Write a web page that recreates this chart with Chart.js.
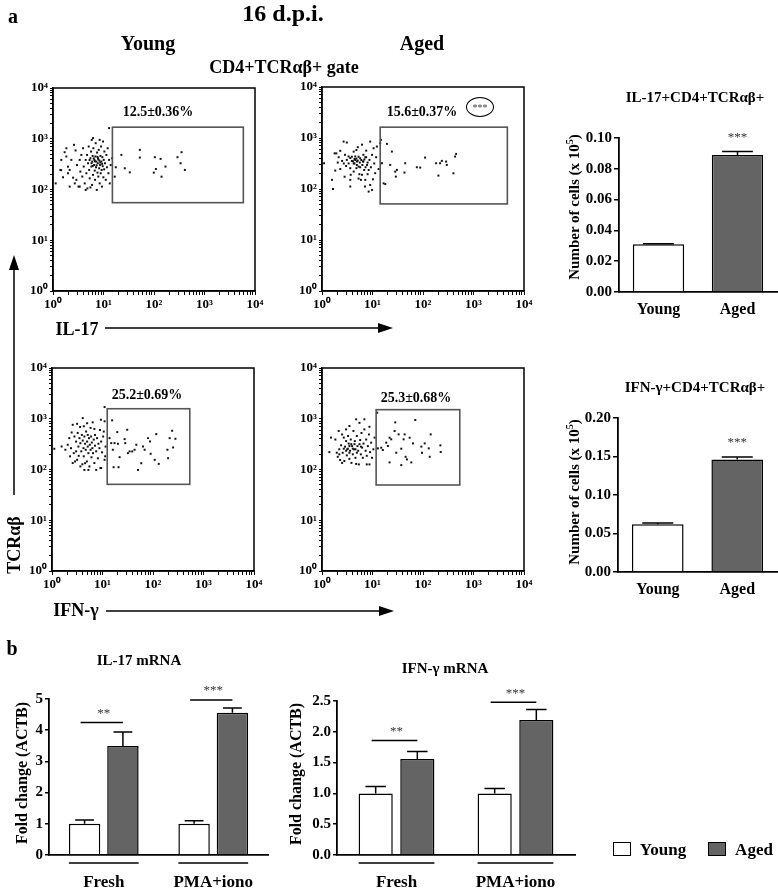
<!DOCTYPE html>
<html><head><meta charset="utf-8">
<script src="https://cdn.jsdelivr.net/npm/chart.js@4"></script>
<style>
html,body{margin:0;padding:0;background:#fff;}
#root{position:relative;width:778px;height:888px;overflow:hidden;font-family:"Liberation Serif","Times New Roman",serif;font-weight:bold;color:#000;}
.t{position:absolute;white-space:nowrap;transform:translate(-50%,-50%);line-height:1;z-index:3;}
.r{transform:translate(-50%,-50%) rotate(-90deg);}
canvas{position:absolute;z-index:1;}
svg{position:absolute;left:0;top:0;z-index:2;}
.box{position:absolute;border:1.5px solid #000;box-sizing:border-box;z-index:3;}
</style></head><body><div id="root"></div>
<script>
// ---------------- DATA ----------------
// flow-cytometry events [x (IL-17 / IFN-γ), y (TCRαβ)]
const youngIL17Events = [
[1.13,132],[1.4,243],[1.45,240],[1.58,174],[1.7,543],[1.84,650],[1.98,282],[1.98,209],[2.14,243],[2.31,383],[2.5,171],[2.6,759],[2.8,588],[2.9,155],[2.99,303],[3.2,114],[3.38,383],[3.48,225],[3.64,480],[3.8,180],[3.94,650],[4.06,283],[4.25,132],[4.44,383],[4.58,209],[4.72,480],[4.8,105],[4.95,329],[5.1,703],[5.2,243],[5.33,166],[5.5,413],[5.67,560],[5.76,283],[5.85,950],[5.94,123],[6.0,355],[6.1,459],[6.2,194],[6.3,650],[6.5,303],[6.6,383],[6.7,236],[6.8,155],[6.9,447],[7.0,818],[7.1,274],[7.2,355],[7.35,98],[7.45,535],[7.6,215],[7.7,329],[7.8,413],[7.9,180],[8.05,604],[8.2,262],[8.3,372],[8.4,132],[8.55,303],[8.7,459],[8.8,209],[8.95,703],[9.1,355],[9.2,243],[9.35,114],[9.5,433],[9.65,288],[9.8,883],[9.95,174],[10.1,383],[10.3,250],[10.4,560],[10.7,329],[11.1,155],[11.4,480],[11.7,274],[12.1,650],[12.5,209],[12.9,383],[13.3,132],[13.9,303],
[1.46,383],[1.84,447],[2.14,114],[2.7,132],[3.38,114],[4.44,98],[5.5,110],[8.4,950],[6.2,1030],
[5.8,330],[6.4,410],[7.3,300],[7.9,390],[8.6,340],[6.8,360],[7.6,440],[5.3,380],[9.4,320],[6.1,290],
[12.9,1620],[14.8,413],[16.7,179],[17.5,274],[22.6,481],[26.4,262],[33.2,218],[52.4,604],[52.4,426],[99,215],[104,433],[109,254],[135,401],[141,179],[169,283],[292,433],[336,329],[351,543],[409,243]
];
const agedIL17Events = [
[1.1,320],[1.58,151],[1.65,100],[1.78,500],[1.92,500],[2.14,420],[2.3,246],[2.5,355],[2.68,850],[3.1,815],[2.8,174],[3.0,283],[3.36,435],[3.63,151],[3.63,112],[3.9,355],[4.24,317],[4.4,388],[4.55,435],[4.8,256],[4.9,346],[5.1,660],[5.3,275],[5.5,195],[5.7,400],[5.9,151],[6.2,740],[6.45,346],[6.6,468],[6.85,236],[7.1,112],[7.2,420],[7.5,565],[7.8,296],[8.0,195],[8.4,89],[8.7,372],[9.0,850],[9.3,267],[9.8,468],[10.2,155],[10.5,630],[10.8,317],[11.3,204],[11.8,420],[12.2,680],[13.2,246],
[3.63,405],[3.9,430],[4.1,350],[4.4,317],[4.55,370],[4.8,395],[4.9,296],[5.1,360],[5.3,430],[5.6,330],[5.7,267],[6.0,370],[6.3,296],[6.6,346],[6.9,380],[7.3,267],[7.5,420],[8.0,330],[3.1,372],[3.36,317],[3.63,256],[2.85,468],[4.24,540],[4.8,580],[5.3,160],[6.2,190],[4.24,220],[3.7,190],[7.2,151],[8.4,236],[9.0,120],[9.8,96],[2.3,560],[2.05,330],[1.83,230],[2.7,317],
[14.2,791],[14.7,920],[15.4,320],[16.6,129],[17.9,125],[19.3,768],[22.4,297],[24.2,542],[28.2,219],[29,175],[30.4,237],[43,210],[44.4,320],[75.5,267],[88,263],[110,413],[182,320],[202,183],[218,320],[236,356],[287,345],[296,297],[401,203],[432,433],[453,488]
];
const youngIFNgEvents = [
[4.06,1030],[2.57,760],[3.14,795],[3.6,690],[4.96,815],[6.4,850],[5.8,660],[6.9,630],[2.2,415],[2.45,537],[2.78,447],[3.0,355],[3.23,525],[3.33,283],[3.5,415],[3.65,330],[3.8,228],[3.9,480],[4.06,372],[4.2,263],[4.26,182],[4.38,447],[4.52,322],[4.66,245],[4.73,560],[4.9,144],[4.96,355],[5.1,283],[5.26,210],[5.4,415],[5.5,115],[5.6,307],[5.8,245],[5.95,447],[6.05,174],[6.15,340],[6.3,263],[6.5,210],[6.7,388],[6.9,134],[7.1,295],[7.5,228],[7.8,415],[8.1,166],[8.3,322],[8.7,263],[9.1,107],[9.4,355],[9.8,218],[10.3,447],[11,155],[11.5,283],[2.05,307],[2.28,182],[2.38,263],[2.7,210],[2.86,144],[3.14,155],[3.38,186],[3.65,115],[4.0,127],[4.38,98],[4.52,133],[5.26,98],[7.5,98],[9.4,107],[2.57,134],[3.0,228],[5.1,480],[4.26,710],[7.1,480],[8.9,600],[10.6,560],[11.3,182],
[1.11,256],[1.55,284],[1.84,245],[9.3,955],[11,890],[11,1700],
[13.8,415],[14.9,331],[15.5,930],[16,245],[17.3,331],[19.6,545],[20.2,321],[21.8,175],[20.8,111],[16.6,111],[27.4,397],[28.2,331],[30.9,607],[31.8,210],[34.4,227],[38.8,227],[43.2,245],[46.7,307],[50.4,98],[58.6,133],[63.3,284],[68.3,245],[79.6,415],[87.1,357],[89.9,204],[108,155],[116,498],[130,129],[193,245],[199,167],[214,415],[239,580],[250,272],[278,403]
];
const agedIFNgEvents = [
[1.4,220],[1.51,425],[1.84,390],[2.05,178],[2.14,575],[2.28,154],[2.39,300],[2.5,490],[2.57,214],[2.7,425],[2.77,147],[2.86,282],[3.0,363],[3.1,190],[3.17,250],[3.28,457],[3.38,324],[3.49,162],[3.6,234],[3.71,390],[3.83,135],[3.95,289],[4.07,199],[4.19,575],[4.33,250],[4.46,363],[4.6,170],[4.74,975],[4.89,457],[5.04,289],[5.2,234],[5.36,126],[5.52,830],[5.7,380],[5.87,199],[6.05,525],[6.24,270],[6.43,170],[6.63,324],[6.9,617],[7.3,234],[7.5,390],[7.7,186],[8.1,289],[8.5,490],[8.7,126],[8.96,220],[9.4,338],[9.8,170],[10.4,250],[11,425],[8.7,695],[6.9,975],[3.0,617],[3.49,720],[1.96,214],[2.2,250],[2.7,257],[3.23,257],[3.49,289],[3.8,316],[4.07,257],[4.4,316],[4.6,250],[4.89,214],[5.52,316],[5.9,282],[3.49,214],[3.0,234],[2.2,199],[2.5,135],[4.74,129],[7.7,126],
[12.4,1315],[12.8,261],[14.9,269],[16,242],[18.7,338],[20.2,290],[21.8,423],[21.8,138],[23.5,393],[27.4,573],[28.2,848],[29.5,214],[32.9,492],[37.1,257],[37.1,122],[41.3,393],[43.3,492],[45.3,178],[48.1,158],[54.4,423],[58.6,138],[63.3,327],[70.4,944],[92.7,282],[95.5,214],[108,327],[130,261],[136,178],[142,492],[221,299],[224,221]
];
// gates [low, high]
const gateYoungIL17X = [15.0, 5870], gateYoungIL17Y = [55, 1690];
const gateAgedIL17X  = [14.2, 4680], gateAgedIL17Y  = [51, 1630];
const gateYoungIFNgX = [12.4, 535],  gateYoungIFNgY = [51, 1575];
const gateAgedIFNgX  = [11.8, 535],  gateAgedIFNgY  = [49.5, 1510];
const logTickValues = [1,2,3,4,5,6,7,8,9,10,20,30,40,50,60,70,80,90,100,200,300,400,500,600,700,800,900,1000,2000,3000,4000,5000,6000,7000,8000,9000,10000];
const logMajorValues = [1,10,100,1000,10000];
const logMajorLabels = ['10\u2070','10\u00B9','10\u00B2','10\u00B3','10\u2074'];

// cell numbers (x 10^5)
const countCategories = ['Young','Aged'];
const il17Counts = [0.031, 0.089];
const il17CountErr = [0.0004, 0.0022];
const ifngCounts = [0.062, 0.146];
const ifngCountErr = [0.0015, 0.0035];
const countStars = ['', '***'];
const il17CountTicks = [0,0.02,0.04,0.06,0.08,0.10];
const il17CountTickLabels = ['0.00','0.02','0.04','0.06','0.08','0.10'];
const ifngCountTicks = [0,0.05,0.10,0.15,0.20];
const ifngCountTickLabels = ['0.00','0.05','0.10','0.15','0.20'];

// mRNA fold change
const mrnaGroups = ['Fresh','PMA+iono'];
const il17mRNAYoung = [1.0, 1.0];
const il17mRNAYoungErr = [0.12, 0.10];
const il17mRNAAged = [3.49, 4.56];
const il17mRNAAgedErr = [0.45, 0.15];
const il17mRNASigLevel = [4.25, 4.97];
const il17mRNASig = ['**','***'];
const il17mRNATicks = [0,1,2,3,4,5];
const il17mRNATickLabels = ['0','1','2','3','4','5'];
const ifngmRNAYoung = [1.0, 1.0];
const ifngmRNAYoungErr = [0.11, 0.08];
const ifngmRNAAged = [1.56, 2.19];
const ifngmRNAAgedErr = [0.12, 0.17];
const ifngmRNASigLevel = [1.86, 2.48];
const ifngmRNASig = ['**','***'];
const ifngmRNATicks = [0,0.5,1,1.5,2,2.5];
const ifngmRNATickLabels = ['0.0','0.5','1.0','1.5','2.0','2.5'];

// ---------------- RENDER ----------------
const FAM = '"Liberation Serif","Times New Roman",serif';
const root = document.getElementById('root');
const YOUNG_FILL = '#ffffff', AGED_FILL = '#646464';

function canvasAt(l,t,w,h){
  const c=document.createElement('canvas'); c.width=w; c.height=h;
  c.style.left=l+'px'; c.style.top=t+'px'; c.style.width=w+'px'; c.style.height=h+'px';
  root.appendChild(c); return c;
}
function txt(s,x,y,size,extra){
  const d=document.createElement('div'); d.className='t'+(extra&&extra.rot?' r':'');
  d.innerHTML=s; d.style.left=x+'px'; d.style.top=y+'px'; d.style.fontSize=size+'px';
  if(extra&&extra.weight) d.style.fontWeight=extra.weight;
  if(extra&&extra.color) d.style.color=extra.color;
  root.appendChild(d); return d;
}

const gatePlugin = {
  id:'gate',
  afterDatasetsDraw(chart,args,opts){
    const {ctx, chartArea:a, scales:{x,y}} = chart;
    ctx.save();
    ctx.strokeStyle='#000'; ctx.lineWidth=1.5;
    ctx.strokeRect(a.left, a.top, a.right-a.left, a.bottom-a.top);
    const x0=x.getPixelForValue(opts.gx[0]), x1=x.getPixelForValue(opts.gx[1]);
    const y0=y.getPixelForValue(opts.gy[0]), y1=y.getPixelForValue(opts.gy[1]);
    ctx.strokeStyle='#555'; ctx.lineWidth=1.6;
    ctx.strokeRect(x0, y1, x1-x0, y0-y1);
    ctx.restore();
  }
};

function scatterChart(l,t,w,h,pad,events,gx,gy){
  const c=canvasAt(l,t,w,h);
  const tickFont={family:FAM,weight:'bold',size:13};
  const lbl=(v)=>{const i=logMajorValues.indexOf(v); return i>=0?logMajorLabels[i]:'';};
  return new Chart(c,{
    type:'scatter',
    data:{datasets:[{data:events.map(p=>({x:p[0],y:p[1]})),pointStyle:'rect',pointRadius:1.4,backgroundColor:'#111',borderWidth:0}]},
    options:{
      responsive:false,animation:false,events:[],
      layout:{padding:{top:pad.top,right:pad.right,left:0,bottom:0}},
      plugins:{legend:{display:false},tooltip:{enabled:false},gate:{gx:gx,gy:gy}},
      scales:{
        x:{type:'logarithmic',min:1,max:10000,
           afterBuildTicks:s=>{s.ticks=logTickValues.map(v=>({value:v,major:logMajorValues.includes(v)}));},
           afterFit:s=>{s.height=pad.xh;},
           ticks:{autoSkip:false,maxRotation:0,padding:2,color:'#000',font:tickFont,callback:lbl},
           grid:{display:true,drawOnChartArea:false,drawTicks:true,tickLength:4,color:'#000',lineWidth:1},
           border:{display:true,color:'#000',width:1.5}},
        y:{type:'logarithmic',min:1,max:10000,
           afterBuildTicks:s=>{s.ticks=logTickValues.map(v=>({value:v,major:logMajorValues.includes(v)}));},
           afterFit:s=>{s.width=pad.yw;},
           ticks:{autoSkip:false,padding:2,color:'#000',font:tickFont,callback:lbl},
           grid:{display:true,drawOnChartArea:false,drawTicks:true,tickLength:3,color:'#000',lineWidth:1},
           border:{display:true,color:'#000',width:1.5}}
      }
    },
    plugins:[gatePlugin]
  });
}

const barDeco = {
  id:'barDeco',
  afterDatasetsDraw(chart,args,opts){
    const {ctx, chartArea:a, scales:{y}} = chart;
    ctx.save();
    ctx.strokeStyle='#000'; ctx.lineWidth=1.5; ctx.fillStyle='#333';
    chart.data.datasets.forEach((ds,i)=>{
      const meta=chart.getDatasetMeta(i);
      meta.data.forEach((bar,j)=>{
        const yt=y.getPixelForValue(ds.data[j]+ds.errors[j]);
        const cw=bar.width*0.3;
        ctx.beginPath(); ctx.moveTo(bar.x,bar.y); ctx.lineTo(bar.x,yt);
        ctx.moveTo(bar.x-cw,yt); ctx.lineTo(bar.x+cw,yt); ctx.stroke();
        if(ds.stars && ds.stars[j]){
          ctx.font='13px '+FAM; ctx.textAlign='center'; ctx.textBaseline='middle';
          ctx.fillText(ds.stars[j], bar.x, yt-14);
        }
      });
    });
    if(opts.sigLevels){
      const m0=chart.getDatasetMeta(0).data, m1=chart.getDatasetMeta(1).data;
      opts.sigLevels.forEach((lv,j)=>{
        const ly=y.getPixelForValue(lv);
        ctx.beginPath(); ctx.moveTo(m0[j].x-4,ly); ctx.lineTo(m1[j].x,ly); ctx.stroke();
        ctx.font='13px '+FAM; ctx.textAlign='center'; ctx.textBaseline='middle';
        ctx.fillText(opts.sigText[j], (m0[j].x+m1[j].x)/2, ly-9);
        const gy=a.bottom+8;
        ctx.beginPath(); ctx.moveTo(m0[j].x-m0[j].width/2,gy); ctx.lineTo(m1[j].x+m1[j].width/2,gy); ctx.stroke();
      });
    }
    ctx.restore();
  }
};

function yAxis(ticks,labels,w,fsz,tl){
  return {min:ticks[0],max:ticks[ticks.length-1],
    afterBuildTicks:s=>{s.ticks=ticks.map(v=>({value:v}));},
    afterFit:s=>{s.width=w;},
    ticks:{autoSkip:false,padding:2,color:'#000',font:{family:FAM,weight:'bold',size:fsz},callback:(v,i)=>labels[i]},
    grid:{display:true,drawOnChartArea:false,drawTicks:true,tickLength:tl,color:'#000',lineWidth:1.5},
    border:{display:true,color:'#000',width:1.8}};
}
function xAxis(h,fsz,pad){
  return {afterFit:s=>{s.height=h;},
    ticks:{padding:pad,color:'#000',font:{family:FAM,weight:'bold',size:fsz},maxRotation:0},
    grid:{display:false,drawTicks:false},
    border:{display:true,color:'#000',width:1.8}};
}

function countChart(l,t,w,h,pad,vals,errs,ticks,labels){
  const c=canvasAt(l,t,w,h);
  return new Chart(c,{
    type:'bar',
    data:{labels:countCategories,datasets:[{data:vals,errors:errs,stars:countStars,
      backgroundColor:[YOUNG_FILL,AGED_FILL],borderColor:'#000',borderWidth:1.5,
      barPercentage:0.65,categoryPercentage:1.0}]},
    options:{responsive:false,animation:false,events:[],
      layout:{padding:{top:pad.top,right:pad.right,left:0,bottom:0}},
      plugins:{legend:{display:false},tooltip:{enabled:false}},
      scales:{x:xAxis(pad.xh,16,8),y:yAxis(ticks,labels,pad.yw,15,5)}},
    plugins:[barDeco]
  });
}
function mrnaChart(l,t,w,h,pad,young,youngErr,aged,agedErr,sigLv,sigTxt,ticks,labels){
  const c=canvasAt(l,t,w,h);
  const common={borderColor:'#000',borderWidth:1.5,barPercentage:0.82,categoryPercentage:0.70};
  return new Chart(c,{
    type:'bar',
    data:{labels:mrnaGroups,datasets:[
      Object.assign({data:young,errors:youngErr,backgroundColor:YOUNG_FILL},common),
      Object.assign({data:aged,errors:agedErr,backgroundColor:AGED_FILL},common)]},
    options:{responsive:false,animation:false,events:[],
      layout:{padding:{top:pad.top,right:pad.right,left:0,bottom:0}},
      plugins:{legend:{display:false},tooltip:{enabled:false},barDeco:{sigLevels:sigLv,sigText:sigTxt}},
      scales:{x:xAxis(pad.xh,17,17),y:yAxis(ticks,labels,pad.yw,15,4)}},
    plugins:[barDeco]
  });
}

// flow panels
scatterChart(0,78,270,245,{top:10,right:15,xh:32,yw:53},youngIL17Events,gateYoungIL17X,gateYoungIL17Y);
scatterChart(269,77,270,246,{top:10,right:15,xh:32,yw:53},agedIL17Events,gateAgedIL17X,gateAgedIL17Y);
scatterChart(0,358,270,245,{top:10,right:16,xh:32,yw:52},youngIFNgEvents,gateYoungIFNgX,gateYoungIFNgY);
scatterChart(269,358,270,245,{top:10,right:15,xh:32,yw:53},agedIFNgEvents,gateAgedIFNgX,gateAgedIFNgY);

// count bars
countChart(545,127,233,195,{top:10,right:1,xh:30,yw:74},il17Counts,il17CountErr,il17CountTicks,il17CountTickLabels);
countChart(545,407,233,195,{top:10,right:1,xh:30,yw:73},ifngCounts,ifngCountErr,ifngCountTicks,ifngCountTickLabels);

// mRNA bars
mrnaChart(0,679,275,209,{top:20,right:7,xh:33,yw:49},il17mRNAYoung,il17mRNAYoungErr,il17mRNAAged,il17mRNAAgedErr,il17mRNASigLevel,il17mRNASig,il17mRNATicks,il17mRNATickLabels);
mrnaChart(285,680,295,208,{top:21,right:5,xh:33,yw:52},ifngmRNAYoung,ifngmRNAYoungErr,ifngmRNAAged,ifngmRNAAgedErr,ifngmRNASigLevel,ifngmRNASig,ifngmRNATicks,ifngmRNATickLabels);

// ---------------- TEXT ----------------
txt('a',13,16,20);
txt('16 d.p.i.',283,13,24);
txt('Young',148,43,20);
txt('Aged',422,43,20);
txt('CD4+TCR&alpha;&beta;+ gate',284,67,18);
txt('12.5&plusmn;0.36%',158,112,14);
txt('15.6&plusmn;0.37%',422,112,14);
txt('25.2&plusmn;0.69%',147,395,14);
txt('25.3&plusmn;0.68%',416,398,14);
const ell=txt('***',480,107,10,{weight:'normal',color:'#444'});
ell.style.border='1.3px solid #000'; ell.style.borderRadius='50%'; ell.style.width='28px'; ell.style.height='20px';
ell.style.boxSizing='border-box'; ell.style.textAlign='center'; ell.style.lineHeight='20px';
txt('IL-17+CD4+TCR&alpha;&beta;+',695,97,15);
txt('IFN-&gamma;+CD4+TCR&alpha;&beta;+',695,387,15);
txt('Number of cells (x 10<sup style="font-size:10px">5</sup>)',573,207,15,{rot:true});
txt('Number of cells (x 10<sup style="font-size:10px">5</sup>)',573,492,15,{rot:true});
txt('TCR&alpha;&beta;',14,545,18,{rot:true});
txt('IL-17',77,329,18);
txt('IFN-&gamma;',76,610,18);
txt('b',12,648,20);
txt('IL-17 mRNA',139,660,15);
txt('IFN-&gamma; mRNA',445,668,15);
txt('Fold change (ACTB)',22,773,16,{rot:true});
txt('Fold change (ACTB)',296,774,16,{rot:true});
// legend
const b1=document.createElement('div'); b1.className='box'; b1.style.cssText+='left:613px;top:842px;width:18px;height:14px;background:'+YOUNG_FILL;
root.appendChild(b1);
const b2=document.createElement('div'); b2.className='box'; b2.style.cssText+='left:708px;top:842px;width:18px;height:14px;background:'+AGED_FILL;
root.appendChild(b2);
txt('Young',663,849,17);
txt('Aged',754,849,17);

// arrows
const svgNS='http://www.w3.org/2000/svg';
const svg=document.createElementNS(svgNS,'svg'); svg.setAttribute('width','778'); svg.setAttribute('height','888');
svg.innerHTML=
 '<line x1="14" y1="495" x2="14" y2="266" stroke="#000" stroke-width="1.5"/>'+
 '<polygon points="14,255 9,270 19,270" fill="#000"/>'+
 '<line x1="105" y1="328" x2="382" y2="328" stroke="#000" stroke-width="1.5"/>'+
 '<polygon points="393,328 378,323 378,333" fill="#000"/>'+
 '<line x1="106" y1="611" x2="383" y2="611" stroke="#000" stroke-width="1.5"/>'+
 '<polygon points="394,611 379,606 379,616" fill="#000"/>';
root.appendChild(svg);
</script></body></html>
